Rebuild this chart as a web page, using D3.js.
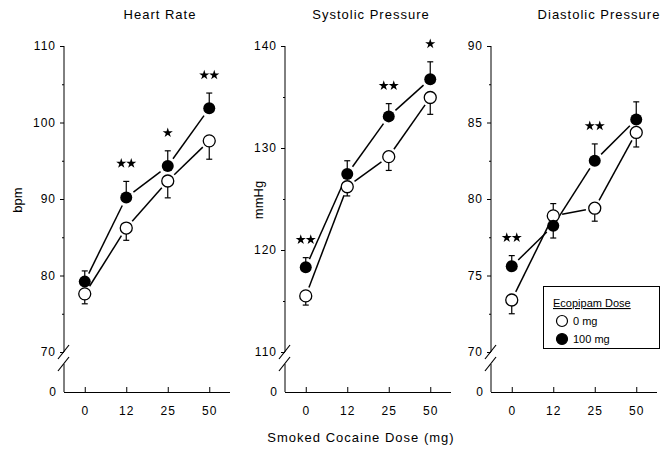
<!DOCTYPE html>
<html>
<head>
<meta charset="utf-8">
<script src="https://cdn.jsdelivr.net/npm/d3@7"></script>
<style>
  body { margin: 0; background: #fff; }
  svg { display: block; font-family: "Liberation Sans", Arial, sans-serif; }
</style>
</head>
<body>
<svg></svg>
<script>
const width = 661;
const height = 451;

// cocaine doses (x categories)
const doses = ["0", "12", "25", "50"];

// Heart rate (bpm)
const hrPlacebo = [77.6, 86.2, 92.35, 97.6];
const hrPlaceboErr = [-1.3, -1.6, -2.2, -2.4];
const hrEcopipam = [79.2, 90.2, 94.3, 101.85];
const hrEcopipamErr = [1.4, 2.1, 2.0, 2.0];
const hrStars = [0, 2, 1, 2];
const hrTicks = [70, 80, 90, 100, 110];

// Systolic pressure (mmHg)
const sysPlacebo = [115.5, 126.2, 129.15, 134.95];
const sysPlaceboErr = [-0.9, -0.9, -1.35, -1.65];
const sysEcopipam = [118.3, 127.45, 133.1, 136.75];
const sysEcopipamErr = [0.95, 1.3, 1.25, 1.7];
const sysStars = [2, 0, 2, 1];
const sysTicks = [110, 120, 130, 140];

// Diastolic pressure (mmHg)
const diaPlacebo = [73.4, 78.9, 79.4, 84.35];
const diaPlaceboErr = [-0.9, 0.8, -0.85, -0.95];
const diaEcopipam = [75.6, 78.25, 82.5, 85.2];
const diaEcopipamErr = [0.7, -0.8, 1.1, 1.15];
const diaStars = [2, 0, 2, 0];
const diaTicks = [70, 75, 80, 85, 90];

const legendLabels = ["0 mg", "100 mg"];

const panels = [
  { title: "Heart Rate", ylab: "bpm", x0: 64, tx: 160, lx: 17, ticks: hrTicks, step: 10,
    p: hrPlacebo, pe: hrPlaceboErr, e: hrEcopipam, ee: hrEcopipamErr, stars: hrStars },
  { title: "Systolic Pressure", ylab: "mmHg", x0: 285, tx: 371, lx: 258, ticks: sysTicks, step: 10,
    p: sysPlacebo, pe: sysPlaceboErr, e: sysEcopipam, ee: sysEcopipamErr, stars: sysStars },
  { title: "Diastolic Pressure", ylab: "", x0: 491, tx: 599, lx: 0, ticks: diaTicks, step: 5,
    p: diaPlacebo, pe: diaPlaceboErr, e: diaEcopipam, ee: diaEcopipamErr, stars: diaStars }
];

const svg = d3.select("svg").attr("width", width).attr("height", height);

const yTop = 46, yBreak = 352, yBase = 392, axLen = 166;
const r = 6;

panels.forEach((pn) => {
  const g = svg.append("g");
  const x = d3.scalePoint().domain(doses).range([pn.x0, pn.x0 + axLen]).padding(0.5);
  const lo = d3.min(pn.ticks), hi = d3.max(pn.ticks);
  const y = d3.scaleLinear().domain([lo, hi]).range([yBreak, yTop]);

  // y axis: major + minor ticks
  const yAx = g.append("g").attr("transform", `translate(${pn.x0},0)`)
    .call(d3.axisLeft(y).tickValues(pn.ticks).tickSize(4).tickPadding(4));
  yAx.select(".domain").remove();
  yAx.selectAll("text").attr("font-size", 12).attr("letter-spacing", 1).attr("fill", "#000");
  const minor = d3.range(lo + pn.step / 2, hi, pn.step);
  const yMin = g.append("g").attr("transform", `translate(${pn.x0},0)`)
    .call(d3.axisLeft(y).tickValues(minor).tickSize(2).tickFormat(""));
  yMin.select(".domain").remove();

  // axis line with break
  g.append("line").attr("x1", pn.x0).attr("x2", pn.x0).attr("y1", yTop).attr("y2", yBreak)
    .attr("stroke", "#000");
  g.append("line").attr("x1", pn.x0).attr("x2", pn.x0).attr("y1", yBreak + 12).attr("y2", yBase)
    .attr("stroke", "#000");
  [yBreak, yBreak + 12].forEach((yy) => {
    g.append("line").attr("x1", pn.x0 - 6).attr("y1", yy + 7).attr("x2", pn.x0 + 5).attr("y2", yy - 7)
      .attr("stroke", "#000").attr("stroke-width", 1.2);
  });
  g.append("text").attr("x", pn.x0 - 8).attr("y", yBase + 4).attr("text-anchor", "end")
    .attr("font-size", 12).text("0");

  // x axis
  const xAx = g.append("g").attr("transform", `translate(0,${yBase})`)
    .call(d3.axisBottom(x).tickSize(-5).tickPadding(14).tickSizeOuter(0));
  xAx.select(".domain").attr("d", `M${pn.x0},0.5H${pn.x0 + axLen}`);
  xAx.selectAll("text").attr("font-size", 12).attr("letter-spacing", 1).attr("fill", "#000");

  // titles
  g.append("text").attr("x", pn.tx).attr("y", 19).attr("text-anchor", "middle")
    .attr("font-size", 13).attr("letter-spacing", 1).text(pn.title);
  if (pn.ylab) {
    g.append("text").attr("transform", `translate(${pn.lx + 5},${200}) rotate(-90)`)
      .attr("text-anchor", "middle").attr("font-size", 13).text(pn.ylab);
  }

  // connecting segments, trimmed at the markers
  [pn.p, pn.e].forEach((vals) => {
    d3.pairs(d3.range(vals.length)).forEach(([a, b]) => {
      const xa = x(doses[a]), ya = y(vals[a]), xb = x(doses[b]), yb = y(vals[b]);
      const len = Math.hypot(xb - xa, yb - ya), t = (r + 3) / len;
      g.append("line")
        .attr("x1", xa + (xb - xa) * t).attr("y1", ya + (yb - ya) * t)
        .attr("x2", xb - (xb - xa) * t).attr("y2", yb - (yb - ya) * t)
        .attr("stroke", "#000").attr("stroke-width", 1.5);
    });
  });

  // error bars
  [[pn.p, pn.pe], [pn.e, pn.ee]].forEach(([vals, errs]) => {
    vals.forEach((v, i) => {
      const cx = x(doses[i]), ye = y(v + errs[i]);
      g.append("line").attr("x1", cx).attr("x2", cx).attr("y1", y(v)).attr("y2", ye)
        .attr("stroke", "#000").attr("stroke-width", 1.2);
      g.append("line").attr("x1", cx - 3).attr("x2", cx + 3).attr("y1", ye).attr("y2", ye)
        .attr("stroke", "#000").attr("stroke-width", 1.2);
    });
  });

  // markers
  g.selectAll(".open").data(pn.p).join("circle")
    .attr("cx", (d, i) => x(doses[i])).attr("cy", (d) => y(d)).attr("r", r)
    .attr("fill", "#fff").attr("stroke", "#000").attr("stroke-width", 1.3);
  g.selectAll(".filled").data(pn.e).join("circle")
    .attr("cx", (d, i) => x(doses[i])).attr("cy", (d) => y(d)).attr("r", r)
    .attr("fill", "#000");

  // significance stars
  const star = d3.symbol().type(d3.symbolStar).size(32);
  pn.stars.forEach((n, i) => {
    if (!n) return;
    const top = Math.min(y(pn.e[i] + Math.max(pn.ee[i], 0)), y(pn.p[i] + Math.max(pn.pe[i], 0)));
    const cy = top - 18;
    d3.range(n).forEach((k) => {
      const cx = x(doses[i]) + (k - (n - 1) / 2) * 10;
      g.append("path").attr("d", star).attr("transform", `translate(${cx},${cy})`).attr("fill", "#000");
    });
  });
});

// shared x title
svg.append("text").attr("x", 361).attr("y", 442).attr("text-anchor", "middle")
  .attr("font-size", 13).attr("letter-spacing", 1).text("Smoked Cocaine Dose (mg)");

// legend
const lg = svg.append("g");
lg.append("rect").attr("x", 543.5).attr("y", 286.5).attr("width", 116).attr("height", 62)
  .attr("fill", "#fff").attr("stroke", "#000");
lg.append("text").attr("x", 553).attr("y", 307).attr("font-size", 11)
  .attr("text-decoration", "underline").text("Ecopipam Dose");
legendLabels.forEach((lab, i) => {
  const cy = 321 + i * 18;
  lg.append("circle").attr("cx", 562).attr("cy", cy).attr("r", 5.5)
    .attr("fill", i ? "#000" : "#fff").attr("stroke", "#000").attr("stroke-width", 1.2);
  lg.append("text").attr("x", 573).attr("y", cy + 4).attr("font-size", 11).text(lab);
});
</script>
</body>
</html>
